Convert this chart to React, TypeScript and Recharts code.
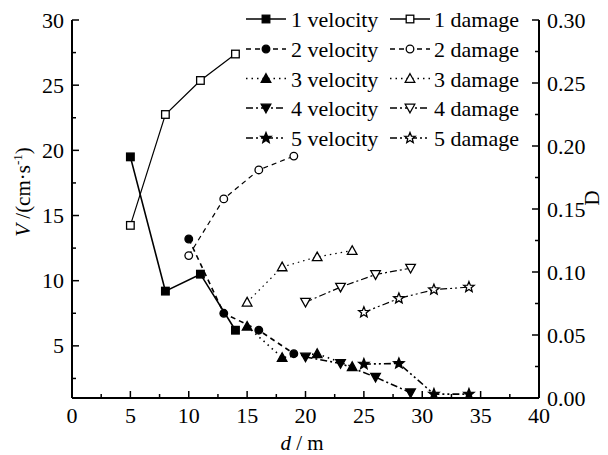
import React from 'react';
import { LineChart, Line, XAxis, YAxis } from 'recharts';

// distances (m) for each test
const dist1 = [5, 8, 11, 14];
const dist2 = [10, 13, 16, 19];
const dist3 = [15, 18, 21, 24];
const dist4 = [20, 23, 26, 29];
const dist5 = [25, 28, 31, 34];

// velocity V (cm/s)
const vel1 = [19.5, 9.2, 10.5, 6.2];
const vel2 = [13.2, 7.5, 6.2, 4.4];
const vel3 = [6.5, 4.1, 4.4, 3.4];
const vel4 = [4.15, 3.65, 2.6, 1.4];
const vel5 = [3.6, 3.65, 1.3, 1.3];

// damage D
const dmg1 = [0.137, 0.225, 0.252, 0.273];
const dmg2 = [0.113, 0.158, 0.181, 0.192];
const dmg3 = [0.076, 0.104, 0.112, 0.117];
const dmg4 = [0.076, 0.088, 0.098, 0.103];
const dmg5 = [0.068, 0.079, 0.086, 0.088];

const seriesNames = ['1', '2', '3', '4', '5'];

const xTicks = [0, 2.5, 5, 7.5, 10, 12.5, 15, 17.5, 20, 22.5, 25, 27.5, 30, 32.5, 35, 37.5, 40];
const xMajor = [0, 5, 10, 15, 20, 25, 30, 35, 40];
const vTicks = [2.5, 5, 7.5, 10, 12.5, 15, 17.5, 20, 22.5, 25, 27.5, 30];
const vMajor = [5, 10, 15, 20, 25, 30];
const dTicks = [0, 0.025, 0.05, 0.075, 0.1, 0.125, 0.15, 0.175, 0.2, 0.225, 0.25, 0.275, 0.3];

const FONT = "'Liberation Serif', 'Times New Roman', Times, serif";
const FS = 22;
const txt = { fontFamily: FONT, fontSize: FS } as React.CSSProperties;

type Shape = 'square' | 'circle' | 'up' | 'down' | 'star';
const shapes: Shape[] = ['square', 'circle', 'up', 'down', 'star'];
const dashes: (string | undefined)[] = [undefined, '5 4', '1.5 4', '7 3 2 3', '7 3 2 3 2 3'];

const dists = [dist1, dist2, dist3, dist4, dist5];
const vels = [vel1, vel2, vel3, vel4, vel5];
const dmgs = [dmg1, dmg2, dmg3, dmg4, dmg5];

const starPath = (cx: number, cy: number, R: number, r: number) => {
  let p = '';
  for (let i = 0; i < 10; i++) {
    const rad = i % 2 === 0 ? R : r;
    const a = -Math.PI / 2 + (i * Math.PI) / 5;
    p += (i === 0 ? 'M' : 'L') + (cx + rad * Math.cos(a)).toFixed(2) + ',' + (cy + rad * Math.sin(a)).toFixed(2);
  }
  return p + 'Z';
};

function Marker({ cx, cy, shape, filled }: { cx: number; cy: number; shape: Shape; filled: boolean }) {
  if (cx == null || cy == null || isNaN(cx) || isNaN(cy)) return null;
  const s = 3.8;
  const fill = filled ? '#000' : '#fff';
  const sw = 1.3;
  switch (shape) {
    case 'square':
      return <rect x={cx - s} y={cy - s} width={2 * s} height={2 * s} fill={fill} stroke="#000" strokeWidth={sw} />;
    case 'circle':
      return <circle cx={cx} cy={cy} r={s} fill={fill} stroke="#000" strokeWidth={sw} />;
    case 'up':
      return (
        <polygon
          points={`${cx},${cy - s - 1} ${cx + s + 1},${cy + s} ${cx - s - 1},${cy + s}`}
          fill={fill}
          stroke="#000"
          strokeWidth={sw}
        />
      );
    case 'down':
      return (
        <polygon
          points={`${cx},${cy + s + 1} ${cx + s + 1},${cy - s} ${cx - s - 1},${cy - s}`}
          fill={fill}
          stroke="#000"
          strokeWidth={sw}
        />
      );
    case 'star':
      return <path d={starPath(cx, cy, 5.5, 2.4)} fill={fill} stroke="#000" strokeWidth={sw} />;
  }
  return null;
}

const LeftTick = (props: any) => {
  const { x, y, payload } = props;
  const v = payload.value;
  const major = vMajor.includes(v);
  return (
    <g>
      <line x1={x} y1={y} x2={x + (major ? 7 : 4)} y2={y} stroke="#000" strokeWidth={1.5} />
      {major && (
        <text x={x - 8} y={y + 7.5} textAnchor="end" style={txt} fill="#000">
          {v}
        </text>
      )}
    </g>
  );
};

const RightTick = (props: any) => {
  const { x, y, payload } = props;
  const v = payload.value as number;
  const major = Math.abs(v * 20 - Math.round(v * 20)) < 1e-6;
  return (
    <g>
      <line x1={x} y1={y} x2={x - (major ? 7 : 4)} y2={y} stroke="#000" strokeWidth={1.5} />
      {major && (
        <text x={x + 8} y={y + 7.5} textAnchor="start" style={txt} fill="#000">
          {v.toFixed(2)}
        </text>
      )}
    </g>
  );
};

const BottomTick = (props: any) => {
  const { x, y, payload } = props;
  const v = payload.value;
  const major = xMajor.includes(v);
  return (
    <g>
      <line x1={x} y1={y} x2={x} y2={y - (major ? 7 : 4)} stroke="#000" strokeWidth={1.5} />
      {major && (
        <text x={x} y={y + 25} textAnchor="middle" style={txt} fill="#000">
          {v}
        </text>
      )}
    </g>
  );
};

function LegendSymbol({ x, y, i, filled }: { x: number; y: number; i: number; filled: boolean }) {
  return (
    <g>
      <line x1={x - 20} y1={y} x2={x + 20} y2={y} stroke="#000" strokeWidth={1.3} strokeDasharray={dashes[i]} />
      <Marker cx={x} cy={y} shape={shapes[i]} filled={filled} />
    </g>
  );
}

export default function App() {
  const rowBase = [19, 49, 78.5, 108, 138];
  return (
    <div style={{ position: 'relative', width: 600, height: 447, fontFamily: FONT }}>
      <LineChart width={600} height={447} margin={{ top: 12, right: 0, bottom: 0, left: 0 }}>
        <XAxis
          dataKey="d"
          type="number"
          domain={[0, 40]}
          ticks={xTicks}
          interval={0}
          height={57}
          tickSize={0}
          tickMargin={0}
          tickLine={false}
          axisLine={{ stroke: '#000', strokeWidth: 2 }}
          tick={BottomTick}
          allowDataOverflow
        />
        <YAxis
          yAxisId="left"
          orientation="left"
          type="number"
          domain={[1, 30]}
          ticks={vTicks}
          interval={0}
          width={64}
          tickSize={0}
          tickMargin={0}
          tickLine={false}
          axisLine={{ stroke: '#000', strokeWidth: 2 }}
          tick={LeftTick}
          allowDataOverflow
        />
        <YAxis
          yAxisId="right"
          orientation="right"
          type="number"
          domain={[0, 0.3]}
          ticks={dTicks}
          interval={0}
          width={69}
          tickSize={0}
          tickMargin={0}
          tickLine={false}
          axisLine={{ stroke: '#000', strokeWidth: 2 }}
          tick={RightTick}
          allowDataOverflow
        />
        {seriesNames.map((n, i) => (
          <Line
            key={'dmg' + n}
            yAxisId="right"
            data={dists[i].map((d, k) => ({ d, val: dmgs[i][k] }))}
            dataKey="val"
            stroke="#000"
            strokeWidth={1.2}
            strokeDasharray={dashes[i]}
            isAnimationActive={false}
            dot={(p: any) => <Marker key={'dd' + n + p.index} cx={p.cx} cy={p.cy} shape={shapes[i]} filled={false} />}
          />
        ))}
        {seriesNames.map((n, i) => (
          <Line
            key={'vel' + n}
            yAxisId="left"
            data={dists[i].map((d, k) => ({ d, val: vels[i][k] }))}
            dataKey="val"
            stroke="#000"
            strokeWidth={1.6}
            strokeDasharray={dashes[i]}
            isAnimationActive={false}
            dot={(p: any) => <Marker key={'vd' + n + p.index} cx={p.cx} cy={p.cy} shape={shapes[i]} filled={true} />}
          />
        ))}
      </LineChart>
      <svg width={600} height={447} style={{ position: 'absolute', left: 0, top: 0, pointerEvents: 'none' }}>
        {seriesNames.map((n, i) => (
          <g key={'lg' + n}>
            <LegendSymbol x={258} y={rowBase[i] - 8} i={i} filled={true} />
            <text x={283} y={rowBase[i]} style={txt} fill="#000">
              {n} velocity
            </text>
            <LegendSymbol x={402} y={rowBase[i] - 8} i={i} filled={false} />
            <text x={426} y={rowBase[i]} style={txt} fill="#000">
              {n} damage
            </text>
          </g>
        ))}
        <text transform="translate(22,184) rotate(-90)" textAnchor="middle" style={{ ...txt, fontSize: 21 }} fill="#000">
          <tspan fontStyle="italic">V</tspan>
          <tspan> /(cm·s</tspan>
          <tspan fontSize={13} dy={-8}>-1</tspan>
          <tspan dy={8}>)</tspan>
        </text>
        <text transform="translate(591,190) rotate(-90)" textAnchor="middle" style={{ ...txt, fontSize: 21 }} fill="#000">
          D
        </text>
        <text x={294} y={442} textAnchor="middle" style={{ ...txt, fontSize: 21 }} fill="#000">
          <tspan fontStyle="italic">d</tspan>
          <tspan> / m</tspan>
        </text>
      </svg>
    </div>
  );
}
